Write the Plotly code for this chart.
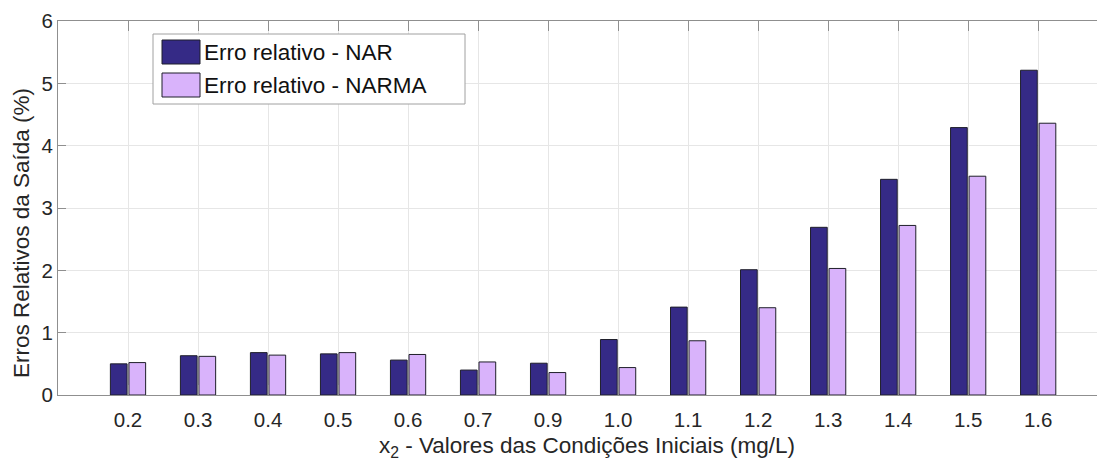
import plotly.graph_objects as go

# Initial-condition values of x2 (mg/L) and relative output errors (%)
condicoes = ["0.2", "0.3", "0.4", "0.5", "0.6", "0.7", "0.9",
             "1.0", "1.1", "1.2", "1.3", "1.4", "1.5", "1.6"]
erro_nar = [0.50, 0.63, 0.68, 0.66, 0.56, 0.40, 0.51,
            0.89, 1.41, 2.01, 2.69, 3.46, 4.29, 5.21]
erro_narma = [0.52, 0.62, 0.64, 0.68, 0.65, 0.53, 0.36,
              0.44, 0.87, 1.40, 2.03, 2.72, 3.51, 4.36]
nomes = ["Erro relativo - NAR", "Erro relativo - NARMA"]
cores = ["#352A86", "#D9B3FB"]

posicoes = list(range(1, len(condicoes) + 1))
FONTE = "Liberation Sans, Arial, sans-serif"
TEXTO = "#262626"
EIXO = "#8f8f8f"
GRADE = "#e6e6e6"

fig = go.Figure()
for nome, valores, cor in zip(nomes, [erro_nar, erro_narma], cores):
    fig.add_trace(go.Bar(
        x=posicoes, y=valores, name=nome,
        marker=dict(color=cor, line=dict(color="#1f1f2a", width=1)),
        showlegend=False,
    ))

fig.update_layout(
    width=1097, height=464,
    margin=dict(l=58, r=0, t=21, b=69),
    paper_bgcolor="white", plot_bgcolor="white",
    barmode="group", bargap=0.47, bargroupgap=0.1,
    font=dict(family=FONTE, size=20.5, color=TEXTO),
)

fig.update_xaxes(
    range=[0, 14.84],
    tickvals=posicoes, ticktext=condicoes,
    ticks="inside", ticklen=10, tickcolor=EIXO,
    ticklabelstandoff=6,
    showline=True, linecolor=EIXO, linewidth=1, mirror="ticks",
    showgrid=True, gridcolor=GRADE, gridwidth=1,
    zeroline=False,
    tickfont=dict(size=20.5, color=TEXTO),
)
fig.update_yaxes(
    range=[0, 6], dtick=1,
    ticks="inside", ticklen=8, tickcolor=EIXO,
    showline=True, linecolor=EIXO, linewidth=1,
    showgrid=True, gridcolor=GRADE, gridwidth=1,
    zeroline=False,
    tickfont=dict(size=20.5, color=TEXTO),
)

# y-axis title
fig.add_annotation(
    text="Erros Relativos da Saída (%)",
    xref="paper", yref="paper", x=0, xshift=-37,
    y=(395 - 233) / 374, textangle=-90,
    showarrow=False, xanchor="center", yanchor="middle",
    font=dict(size=22.5, color=TEXTO, family=FONTE),
)

# x-axis title centred on the full axis extent
fig.add_annotation(
    text="x<sub>2</sub> - Valores das Condições Iniciais (mg/L)",
    xref="x", yref="paper", x=7.55, y=0, yshift=-52,
    showarrow=False, xanchor="center", yanchor="middle",
    font=dict(size=22.5, color=TEXTO, family=FONTE),
)

# Legend box with wide colour swatches
fig.add_shape(type="rect", xref="paper", yref="paper",
              x0=(153 - 58) / 1039, x1=(465 - 58) / 1039,
              y0=(395 - 104) / 374, y1=(395 - 34) / 374,
              line=dict(color="#a0a0a0", width=1), fillcolor="white",
              layer="above")
for i, (nome, cor) in enumerate(zip(nomes, cores)):
    yc = 52 + i * 33
    fig.add_shape(type="rect", xref="paper", yref="paper",
                  x0=(162 - 58) / 1039, x1=(200 - 58) / 1039,
                  y0=(395 - (yc + 12)) / 374, y1=(395 - (yc - 12)) / 374,
                  line=dict(color="#1f1f2a", width=1), fillcolor=cor,
                  layer="above")
    fig.add_annotation(
        text=nome, xref="paper", yref="paper",
        x=(202 - 58) / 1039, y=(395 - yc) / 374,
        showarrow=False, xanchor="left", yanchor="middle",
        font=dict(size=22.5, color="#111111", family=FONTE),
    )

fig.write_html("out.html")
